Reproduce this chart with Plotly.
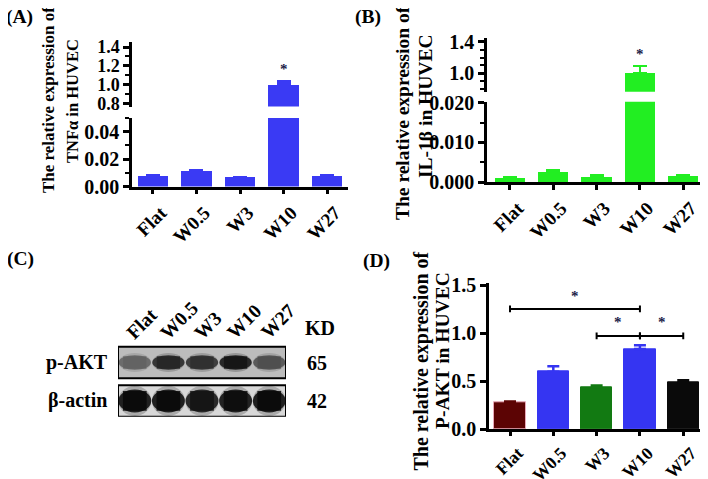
import plotly.graph_objects as go

W, H = 708, 479
OFF = 8  # page body margin offset of the rendered figure
FONT = "Liberation Serif, Times New Roman, serif"

# ---------------- data ----------------
categories = ["Flat", "W0.5", "W3", "W10", "W27"]

tnf_mean = [0.0079, 0.0113, 0.0067, 1.00, 0.0077]
tnf_err = [0.0002, 0.0006, 0.0002, 0.036, 0.0002]

il1b_mean = [0.0010, 0.0025, 0.0014, 1.00, 0.0016]
il1b_err = [0.0001, 0.0004, 0.0002, 0.095, 0.0001]

pakt_mean = [0.285, 0.600, 0.440, 0.835, 0.490]
pakt_err = [0.004, 0.056, 0.017, 0.041, 0.020]
pakt_colors = ["#5c0404", "#3535f2", "#127a12", "#3535f2", "#0a0a0a"]

# western blot band darkness (0 = none, 1 = black)
blot_rows = ["β-actin", "p-AKT"]
blot_kd = ["42", "65"]
pakt_band = [0.62, 0.86, 0.82, 0.92, 0.70]
actin_band = [0.97, 0.97, 0.93, 0.96, 0.97]

# significance brackets in panel D: (from, to, height)
sig_pairs = [(0, 3, 1.253), (2, 3, 0.972), (3, 4, 0.972)]
sig_star_offset = 0.14


def fx(px):
    return (px - OFF) / W


def fy(py):
    return 1 - (py - OFF) / H


fig = go.Figure()

axis_common = dict(showgrid=False, zeroline=False, linecolor="black", linewidth=2.5,
                   tickcolor="black", tickwidth=2.5, ticks="outside", automargin=False,
                   tickfont=dict(family=FONT, size=19, color="black", weight="bold"))
idx = list(range(len(categories)))


def xcat(dom, rng, show=True, size=19):
    d = dict(axis_common)
    d.update(domain=dom, range=rng, tickvals=idx, ticktext=categories, tickangle=-45,
             ticklen=5, fixedrange=True, ticklabelshift=8,
             tickfont=dict(family=FONT, size=size, color="black", weight="bold"))
    if not show:
        d.update(showline=False, ticks="", showticklabels=False)
    return d


def ylin(dom, rng, tickvals, fmt, minor=None, size=20):
    d = dict(axis_common)
    d.update(domain=dom, range=rng, tickvals=tickvals, tickformat=fmt, ticklen=6,
             fixedrange=True, tickfont=dict(family=FONT, size=size, color="black", weight="bold"))
    if minor is not None:
        d["minor"] = dict(tickvals=minor, ticks="outside", ticklen=4, tickwidth=2,
                          tickcolor="black")
    return d


# ---------- Panel A ----------
axA_x = [fx(132), fx(348)]
rngA = [-0.48, 4.48]
for xa, ya in (("x", "y"), ("x2", "y2")):
    fig.add_trace(go.Bar(x=idx, y=tnf_mean, width=0.7, marker=dict(color="#3a3af4", line=dict(width=0)),
                         error_y=dict(type="data", array=tnf_err, arrayminus=[0] * 5, color="#3a3af4",
                                      thickness=2.5, width=7),
                         xaxis=xa, yaxis=ya, showlegend=False))

# ---------- Panel B ----------
axB_x = [fx(487), fx(706)]
rngB = [-0.53, 4.53]
for xa, ya in (("x3", "y3"), ("x4", "y4")):
    fig.add_trace(go.Bar(x=idx, y=il1b_mean, width=0.7, marker=dict(color="#22ee22", line=dict(width=0)),
                         error_y=dict(type="data", array=il1b_err, arrayminus=[0] * 5, color="#22ee22",
                                      thickness=2.5, width=7),
                         xaxis=xa, yaxis=ya, showlegend=False))

# ---------- Panel D ----------
axD_x = [fx(489), fx(701)]
rngD = [-0.485, 4.41]
for i in idx:
    fig.add_trace(go.Bar(x=[i], y=[pakt_mean[i]], width=0.72,
                         marker=dict(color=pakt_colors[i],
                                     line=dict(width=1, color="#e8a8b8" if i == 0 else pakt_colors[i])),
                         error_y=dict(type="data", array=[pakt_err[i]], arrayminus=[0],
                                      color=pakt_colors[i], thickness=2.5, width=6),
                         xaxis="x6", yaxis="y6", showlegend=False))

cap = 0.035
for a, b, h in sig_pairs:
    fig.add_trace(go.Scatter(x=[a, a, None, a, b, None, b, b],
                             y=[h - cap, h + cap, None, h, h, None, h - cap, h + cap],
                             mode="lines", line=dict(color="black", width=2),
                             xaxis="x6", yaxis="y6", showlegend=False, hoverinfo="skip"))

# ---------- Panel C (blot) ----------
shapes = []
box_half = 0.411
px_per_row = 38.4
blot_top_px = 300.0
blot_ymax = 1 + box_half + (346.7 - blot_top_px) / px_per_row
row_fill = {0: "#d8d8d8", 1: "#bcbcbc"}
for r in range(len(blot_rows)):
    shapes.append(dict(type="rect", xref="x5", yref="y5", x0=-0.5, x1=4.5,
                       y0=r - box_half, y1=r + box_half, fillcolor=row_fill[r],
                       line=dict(width=0), layer="below"))


def gray(v):
    g = int(round(255 * (1 - v)))
    return f"rgb({g},{g},{g})"


band_specs = {1: (pakt_band, 0.48, 0.19), 0: (actin_band, 0.49, 0.30)}
for r, (vals, hw, hh) in band_specs.items():
    for i, v in enumerate(vals):
        # soft halo
        shapes.append(dict(type="circle", xref="x5", yref="y5",
                           x0=i - hw, x1=i + hw, y0=r - hh * 1.3, y1=r + hh * 1.3,
                           fillcolor=gray(v), opacity=0.22, line=dict(width=0), layer="above"))
        # band body: ellipse + rectangular core gives a rounded band
        shapes.append(dict(type="circle", xref="x5", yref="y5",
                           x0=i - hw, x1=i + hw, y0=r - hh, y1=r + hh,
                           fillcolor=gray(v), opacity=0.85, line=dict(width=0), layer="above"))
        shapes.append(dict(type="rect", xref="x5", yref="y5",
                           x0=i - hw * 0.72, x1=i + hw * 0.72, y0=r - hh * 0.85, y1=r + hh * 0.85,
                           fillcolor=gray(v), opacity=0.85, line=dict(width=0), layer="above"))
for r in range(len(blot_rows)):
    shapes.append(dict(type="rect", xref="x5", yref="y5", x0=-0.5, x1=4.5,
                       y0=r - box_half, y1=r + box_half, line=dict(color="black", width=2),
                       layer="above"))

# dummy trace to create blot axes
fig.add_trace(go.Scatter(x=[None], y=[None], xaxis="x5", yaxis="y5", showlegend=False))

layout = dict(
    width=W, height=H, margin=dict(l=0, r=0, t=0, b=0, pad=0, autoexpand=False),
    showlegend=False,
    paper_bgcolor="white", plot_bgcolor="rgba(0,0,0,0)",
    font=dict(family=FONT, color="black", weight="bold"),
    barmode="overlay", bargap=0,
    xaxis=xcat(axA_x, rngA, show=False) | dict(anchor="y"),
    yaxis=ylin([fy(106.5), fy(42)], [0.768, 1.454], [0.8, 1.0, 1.2, 1.4], ".1f",
               minor=[0.9, 1.1, 1.3], size=18) | dict(anchor="x"),
    xaxis2=xcat(axA_x, rngA) | dict(anchor="y2"),
    yaxis2=ylin([fy(186.5), fy(118)], [0, 0.05], [0, 0.02, 0.04], ".2f",
                minor=[0.01, 0.03, 0.05]) | dict(anchor="x2"),
    xaxis3=xcat(axB_x, rngB, show=False) | dict(anchor="y3"),
    yaxis3=ylin([fy(91.7), fy(38.3)], [0.767, 1.443], [1.0, 1.4], ".1f",
                minor=[0.8, 0.9, 1.1, 1.2, 1.3]) | dict(anchor="x3"),
    xaxis4=xcat(axB_x, rngB) | dict(anchor="y4"),
    yaxis4=ylin([fy(182), fy(101.7)], [0, 0.0203], [0, 0.01, 0.02], ".3f",
                minor=[0.005, 0.015]) | dict(anchor="x4"),
    xaxis5=dict(domain=[fx(118), fx(286)], range=[-0.5, 4.5], visible=False, anchor="y5",
                fixedrange=True, automargin=False),
    yaxis5=dict(domain=[fy(416.7), fy(blot_top_px)], range=[-box_half, blot_ymax], visible=False,
                anchor="x5", fixedrange=True, automargin=False),
    xaxis6=xcat(axD_x, rngD, size=17.5) | dict(anchor="y6", ticklen=4),
    yaxis6=ylin([fy(429.3), fy(283.3)], [0, 1.52], [0, 0.5, 1.0, 1.5], ".1f") | dict(anchor="x6"),
    shapes=shapes,
)
fig.update_layout(**layout)

ann = []


def add_text(text, x, y, size=20, angle=0, xref="paper", yref="paper", color="black",
             xanchor="center", yanchor="middle"):
    ann.append(dict(text=text, x=x, y=y, xref=xref, yref=yref, showarrow=False,
                    textangle=angle, xanchor=xanchor, yanchor=yanchor,
                    font=dict(family=FONT, size=size, color=color, weight="bold")))


# panel labels
add_text("(A)", fx(19), fy(17.5), size=19.5)
add_text("(B)", fx(368), fy(17), size=19.5)
add_text("(C)", fx(20), fy(259), size=19.5)
add_text("(D)", fx(376), fy(261), size=19.5)

# y titles (two lines each, rotated)
title_line1 = "The relative expression of"
add_text(title_line1, fx(48), fy(100), size=17, angle=-90)
add_text("TNFα in HUVEC", fx(72), fy(101), size=16.5, angle=-90)
add_text(title_line1, fx(402), fy(113), size=19.5, angle=-90)
add_text("IL-1β in HUVEC", fx(425), fy(106), size=19.5, angle=-90)
add_text(title_line1, fx(421), fy(361.5), size=20, angle=-90)
add_text("P-AKT in HUVEC", fx(442), fy(350), size=19.5, angle=-90)

# asterisks
star_col = "#1c1c48"
add_text("*", 3, tnf_mean[3] + tnf_err[3] + 0.13, size=15, xref="x", yref="y", color=star_col)
add_text("*", 3, il1b_mean[3] + il1b_err[3] + 0.15, size=15, xref="x3", yref="y3", color=star_col)
for a, b, h in sig_pairs:
    add_text("*", (a + b) / 2, h + sig_star_offset, size=15, xref="x6", yref="y6", color=star_col)

# blot labels
for r, name in enumerate(blot_rows):
    add_text(name, fx(77), r, size=20, yref="y5")
    add_text(blot_kd[r], fx(317), r, size=20, yref="y5")
add_text("KD", fx(320), fy(328), size=20)
for i, c in enumerate(categories):
    add_text(c, i - 0.45, 1 + box_half + 0.02, size=19.5, angle=-45, xref="x5", yref="y5",
             xanchor="left", yanchor="bottom")

fig.update_layout(annotations=ann)
fig.write_html("out.html")
